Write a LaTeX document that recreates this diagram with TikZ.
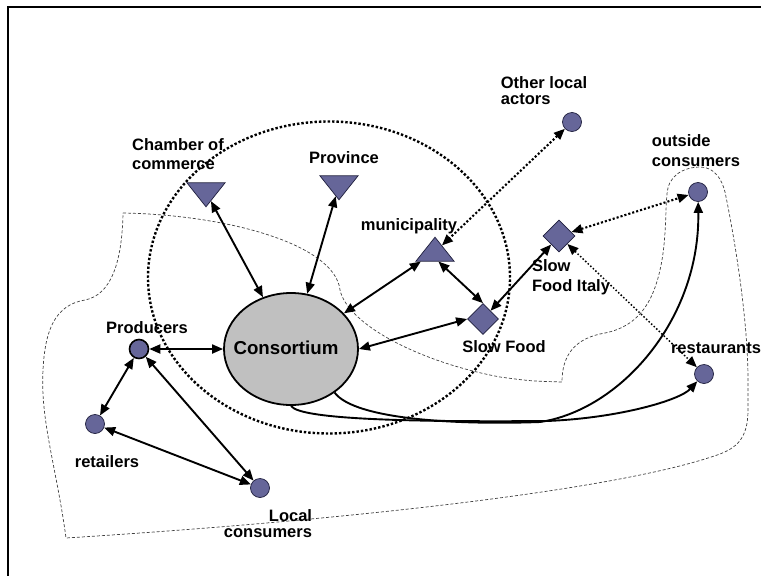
\documentclass[tikz,border=0pt]{standalone}
\usepackage{fontspec}
\setmainfont{Liberation Sans}
\usetikzlibrary{arrows.meta,shapes.geometric}
\definecolor{actorfill}{RGB}{102,102,153}
\definecolor{actorline}{RGB}{30,30,60}
\definecolor{hubfill}{RGB}{192,192,192}
\begin{document}
\begin{tikzpicture}[x=1pt,y=-1pt,
  actor/.style={fill=actorfill,draw=actorline,line width=0.7pt,inner sep=0pt},
  person/.style={actor,circle,minimum size=19pt},
  agency/.style={actor,isosceles triangle,isosceles triangle apex angle=77,minimum height=24pt},
  office/.style={actor,diamond,minimum width=31pt,minimum height=31pt},
  lbl/.style={font=\bfseries\fontsize{16.5}{19}\selectfont,inner sep=0pt,align=left},
  tip/.tip={Triangle[length=11pt,width=9pt]},
  tie/.style={line width=1.9pt,tip-tip},
  loose/.style={line width=2.1pt,dash pattern=on 2.1pt off 2pt,tip-tip},
  flow/.style={line width=1.9pt,-tip},
  region/.style={draw=black!75,line width=0.7pt,dash pattern=on 3pt off 2pt},
  ring/.style={line width=2.4pt,dash pattern=on 2.4pt off 2pt},
]
\useasboundingbox (0,0) rectangle (761,576);
% outer frame
\draw[line width=2pt] (8,576) -- (8,7) -- (761,7);

% dashed region of the local system
\draw[region] (123,213) .. controls (230,215) and (335,245) .. (340,290)
  .. controls (348,325) and (420,362) .. (500,377)
  .. controls (530,381) .. (562,382)
  .. controls (562,355) and (575,338) .. (605,333)
  .. controls (640,326) and (655,300) .. (662,260)
  .. controls (667,230) and (665,200) .. (668,188)
  .. controls (672,172) and (688,167) .. (700,167)
  .. controls (715,167) and (722,180) .. (725,192)
  .. controls (735,240) and (748,320) .. (748,380)
  -- (748,410)
  .. controls (748,440) and (735,448) .. (720,454)
  .. controls (620,490) and (350,520) .. (66,538)
  .. controls (57,470) and (40,420) .. (43,370)
  .. controls (45,330) and (55,305) .. (85,300)
  .. controls (110,295) and (122,265) .. cycle;

% dotted ring of institutional actors
\draw[ring] (329,277.5) ellipse [x radius=181pt, y radius=156pt];

% actors
\node[ellipse,fill=hubfill,draw=black,line width=1.8pt,minimum width=134pt,minimum height=112pt,inner sep=0pt] (cons) at (291,349) {};
\node[font=\bfseries\fontsize{18.7}{22}\selectfont,inner sep=0pt] (cons-l) at (286,348) {Consortium};
\node[person] (oth) at (572,122) {};
\node[person] (outc) at (698,192) {};
\node[person] (rest) at (704,374) {};
\node[person,draw=black,line width=1.6pt] (prod) at (139,349) {};
\node[person] (ret) at (95,424) {};
\node[person] (locc) at (260,488) {};
\node[agency,shape border rotate=280] (cham) at (206,192) {};
\node[agency,shape border rotate=270] (prov) at (339,185) {};
\node[agency,shape border rotate=90] (muni) at (435,252) {};
\node[office] (sf) at (483,319) {};
\node[office,minimum width=32pt,minimum height=32pt] (sfi) at (559,236) {};

% labels
\node[lbl,font=\bfseries\fontsize{16.5}{16}\selectfont] (l-oth) at (544,91) {Other local\\actors};
\node[lbl,font=\bfseries\fontsize{16.5}{19.5}\selectfont] (l-cham) at (178,154) {Chamber of\\commerce};
\node[lbl] (l-prov) at (344,158) {Province};
\node[lbl] (l-muni) at (409,226) {municipality};
\node[lbl] (l-sf) at (504,347) {Slow Food};
\node[lbl,font=\bfseries\fontsize{16.5}{20}\selectfont] (l-sfi) at (571,277) {Slow\\Food Italy};
\node[lbl,font=\bfseries\fontsize{16.5}{20}\selectfont] (l-outc) at (696,151) {outside\\consumers};
\node[lbl] (l-rest) at (716,348) {restaurants};
\node[lbl] (l-prod) at (147,328) {Producers};
\node[lbl] (l-ret) at (107,462) {retailers};
\node[lbl,align=right,font=\bfseries\fontsize{16.5}{16}\selectfont] (l-locc) at (268,524) {Local\\consumers};

% relations
\draw[tie] (prod) -- (cons);
\draw[tie] (prod) -- (ret);
\draw[tie] (prod) -- (locc);
\draw[tie] (ret) -- (locc);
\draw[tie] (cham) -- (cons);
\draw[tie] (prov) -- (cons);
\draw[tie] (muni) -- (cons);
\draw[tie] (muni.-70) -- (sf.north);
\draw[tie] (sf.west) -- (cons.east);
\draw[tie] (sfi) -- (sf);
\draw[loose] (oth) -- (muni);
\draw[loose] (sfi) -- (outc);
\draw[loose,line width=1.5pt,dash pattern=on 1.5pt off 2pt] (sfi) -- (rest);
\draw[flow] (cons.south) .. controls (300,420) and (420,422) .. (547,421)
  .. controls (620,418) and (680,400) .. (rest);
\draw[flow] (cons.-45) .. controls (355,420) and (460,425) .. (540,422)
  .. controls (620,410) and (700,320) .. (outc);
\end{tikzpicture}
\end{document}
